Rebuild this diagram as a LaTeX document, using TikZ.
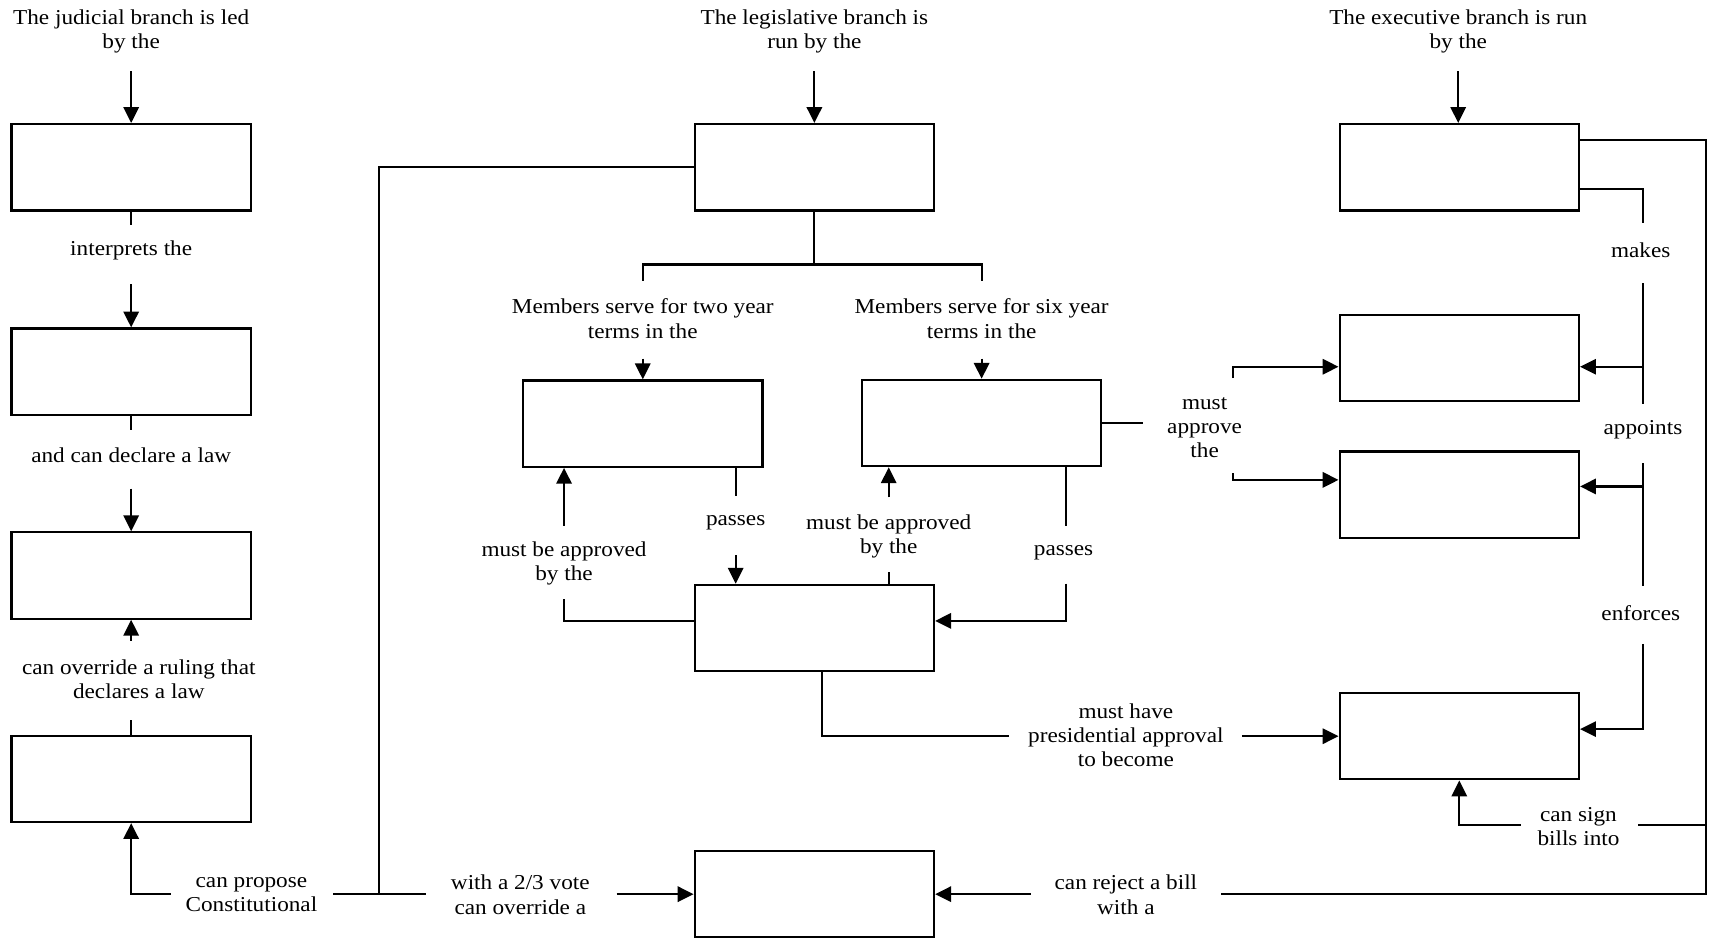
\documentclass[tikz,border=0pt]{standalone}
\usepackage{fontspec}
\setmainfont{Liberation Serif}[FakeStretch=1.095]
\usetikzlibrary{arrows.meta}
\begin{document}
\begin{tikzpicture}[x=1pt,y=-1pt,
  box/.style={draw,line width=2pt,minimum width=219pt,minimum height=79pt,inner sep=0pt},
  lbl/.style={align=center,inner sep=0pt,font=\fontsize{19.4}{22}\selectfont,yshift=-2.5pt},
  ln/.style={line width=2pt},
  arr/.style={line width=2pt,-{Triangle[length=14.5pt,width=14pt]}}]
\useasboundingbox (0,0) rectangle (1568,860);

% boxes
\node[box] (J1) at (120,153) {};
\node[box] (J2) at (120,340) {};
\node[box] (J3) at (120,526.5) {};
\node[box] (J4) at (120,712.5) {};
\node[box] (L) at (745,153) {};
\node[box] (H) at (588,387.5) {};
\node[box] (S) at (898,387) {};
\node[box] (B) at (745,574.5) {};
\node[box] (V) at (745,818) {};
\node[box] (E1) at (1335,153) {};
\node[box] (E2) at (1335,327.5) {};
\node[box] (E3) at (1335,452.5) {};
\node[box] (E4) at (1335,673.5) {};

% labels
\node[lbl] (tJ) at (120,26) {The judicial branch is led\\by the};
\node[lbl] (tL) at (745,26) {The legislative branch is\\run by the};
\node[lbl] (tE) at (1334,26) {The executive branch is run\\by the};
\node[lbl] (interp) at (120,227) {interprets the};
\node[lbl] (declare) at (120,414) {and can declare a law};
\node[lbl] (override) at (127,619) {can override a ruling that\\declares a law};
\node[lbl] (propose) at (230,816) {can propose\\Constitutional};
\node[lbl] (twothirds) at (476,816) {with a 2/3 vote\\can override a};
\node[lbl] (two) at (588,289) {Members serve for two year\\terms in the};
\node[lbl] (six) at (898,289) {Members serve for six year\\terms in the};
\node[lbl] (mbaH) at (516,513) {must be approved\\by the};
\node[lbl] (passH) at (673,476) {passes};
\node[lbl] (mbaS) at (813,488) {must be approved\\by the};
\node[lbl] (passS) at (973,503) {passes};
\node[lbl] (approve) at (1102,389) {must\\approve\\the};
\node[lbl] (makes) at (1501,226) {makes};
\node[lbl] (appoints) at (1503,391) {appoints};
\node[lbl] (enforces) at (1501,558) {enforces};
\node[lbl] (presid) at (1030,670) {must have\\presidential approval\\to become};
\node[lbl] (sign) at (1444,754) {can sign\\bills into};
\node[lbl] (reject) at (1030,816) {can reject a bill\\with a};

% judicial column
\coordinate (aJ) at (120,65);
\draw[arr] (aJ) -- (J1.north);
\coordinate (i1) at (120,206);
\draw[ln] (J1.south) -- (i1);
\coordinate (i2) at (120,260);
\draw[arr] (i2) -- (J2.north);
\coordinate (d1) at (120,393);
\draw[ln] (J2.south) -- (d1);
\coordinate (d2) at (120,447);
\draw[arr] (d2) -- (J3.north);
\coordinate (o1) at (120,586);
\draw[arr] (o1) -- (J3.south);
\coordinate (o2) at (120,659);
\draw[ln] (o2) -- (J4.north);
\coordinate (p1) at (156,818);
\draw[arr] (p1) -| (J4.south);
\coordinate (p2) at (305,818);
\coordinate (jn) at (347,818);
\coordinate (q1) at (390,818);
\draw[ln] (L.west) -| (jn);
\draw[ln] (p2) -- (q1);
\coordinate (q2) at (564,818);
\draw[arr] (q2) -- (V.west);

% legislative
\coordinate (aL) at (745,65);
\draw[arr] (aL) -- (L.north);
\coordinate (sp) at (745,242);
\coordinate (tw) at (588,257);
\coordinate (sx) at (898,257);
\draw[ln] (L.south) -- (sp);
\draw[ln] (tw) |- (sp) -| (sx);
\coordinate (aH) at (588,328);
\draw[arr] (aH) -- (H.north);
\coordinate (aS) at (898,328);
\draw[arr] (aS) -- (S.north);

\coordinate (m1) at (516,548);
\draw[ln] ([yshift=6.5pt]B.west) -| (m1);
\coordinate (m2) at (516,481);
\draw[arr] (m2) -- (m2 |- H.south);
\coordinate (ph1) at (673,454);
\draw[ln] (ph1 |- H.south) -- (ph1);
\coordinate (ph2) at (673,508);
\draw[arr] (ph2) -- (ph2 |- B.north);
\coordinate (ms1) at (813,523);
\draw[ln] (ms1 |- B.north) -- (ms1);
\coordinate (ms2) at (813,455);
\draw[arr] (ms2) -- (ms2 |- S.south);
\coordinate (ps1) at (975,481);
\draw[ln] (ps1 |- S.south) -- (ps1);
\coordinate (ps2) at (975,534);
\draw[arr] (ps2) |- ([yshift=6.5pt]B.east);

% senate approves
\coordinate (ap0) at (1046,387);
\draw[ln] (S.east) -- (ap0);
\coordinate (ap1) at (1128,346);
\draw[arr] (ap1) |- ([yshift=-8pt]E2.west);
\coordinate (ap2) at (1128,433);
\draw[arr] (ap2) |- ([yshift=13.5pt]E3.west);

% executive
\coordinate (aE) at (1334,65);
\draw[arr] (aE) -- (aE |- E1.north);
\coordinate (rc) at (1561,818);
\coordinate (rj) at (1117,818);
\draw[ln] ([yshift=25pt]E1.east) -| (rc) -- (rj);
\coordinate (rv) at (943,818);
\draw[arr] (rv) -- (V.east);
\coordinate (sg0) at (1561,755);
\coordinate (sg1) at (1498,755);
\draw[ln] (sg0) -- (sg1);
\coordinate (sg2) at (1391,755);
\draw[arr] (sg2) -| (E4.south);

\coordinate (mk1) at (1503,204);
\draw[ln] ([yshift=-20pt]E1.east) -| (mk1);
\coordinate (mk2) at (1503,259);
\coordinate (mk3) at (1503,370);
\draw[ln] (mk2) -- (mk3);
\coordinate (e2r) at ([yshift=-8pt]E2.east);
\draw[arr] (e2r -| mk2) -- (e2r);
\coordinate (en1) at (1503,424);
\coordinate (en2) at (1503,536);
\draw[ln] (en1) -- (en2);
\coordinate (e3r) at ([yshift=7.5pt]E3.east);
\draw[arr] (e3r -| en1) -- (e3r);
\coordinate (en3) at (1503,589);
\draw[arr] (en3) |- ([yshift=6.5pt]E4.east);

% presidential approval
\coordinate (pr1) at (923,673.5);
\draw[ln] ([xshift=7pt]B.south) |- (pr1);
\coordinate (pr2) at (1136,673.5);
\draw[arr] (pr2) -- (pr2 -| E4.west);
\end{tikzpicture}
\end{document}
